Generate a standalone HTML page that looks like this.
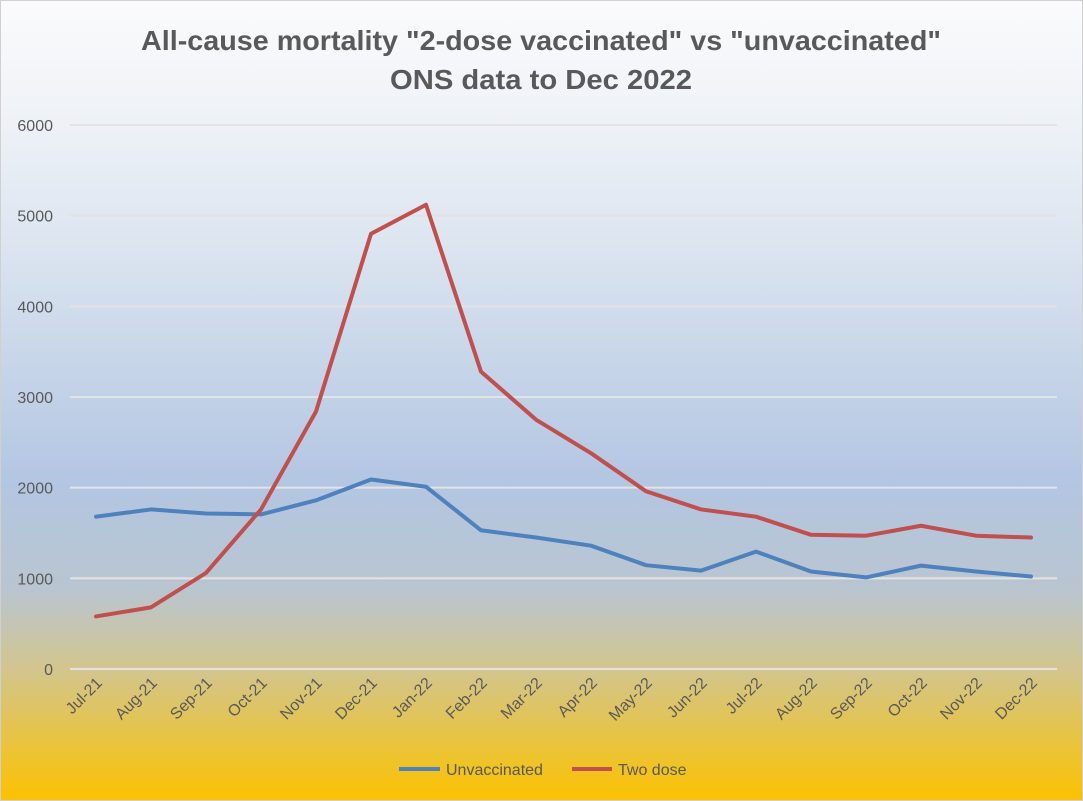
<!DOCTYPE html>
<html><head><style>
html,body{margin:0;padding:0}
body{width:1083px;height:801px;overflow:hidden;font-family:"Liberation Sans",Calibri,sans-serif}
#c{position:absolute;left:0;top:0;width:1081px;height:799px;border:1px solid #d0d0d0;
background:linear-gradient(to bottom,#fbfbfc 0px,#eef2f7 120px,#dbe4f0 250px,#c4d3e8 380px,#b3c6e2 480px,#b9c5cf 590px,#d3c58c 670px,#e8c440 740px,#fcc100 799px)}
</style></head><body>
<div id="c"></div>
<svg id="s" width="1083" height="801" style="position:absolute;left:0;top:0" font-family="Liberation Sans, sans-serif"></svg>
<script>
var s=document.getElementById('s'),h='';
h+='<text x="541" y="50" text-anchor="middle" font-size="28" font-weight="bold" fill="#595959" textLength="800" lengthAdjust="spacingAndGlyphs">All-cause mortality "2-dose vaccinated" vs "unvaccinated"</text>';
h+='<text x="541" y="89" text-anchor="middle" font-size="28" font-weight="bold" fill="#595959" textLength="302" lengthAdjust="spacingAndGlyphs">ONS data to Dec 2022</text>';
for(var i=0;i<=6;i++){var y=669-i*90.67;h+='<line x1="70" x2="1057" y1="'+y+'" y2="'+y+'" stroke="#e3e3e3" stroke-width="2"/>';
h+='<text x="53" y="'+(y+6)+'" text-anchor="end" font-size="16" fill="#595959">'+(i*1000)+'</text>';}
var m=['Jul-21','Aug-21','Sep-21','Oct-21','Nov-21','Dec-21','Jan-22','Feb-22','Mar-22','Apr-22','May-22','Jun-22','Jul-22','Aug-22','Sep-22','Oct-22','Nov-22','Dec-22'];
for(var i=0;i<18;i++){var x=96+i*55;h+='<text transform="translate('+(x+7)+',684) rotate(-45)" text-anchor="end" font-size="16" fill="#595959">'+m[i]+'</text>';}
var u=[1680,1760,1715,1705,1860,2090,2010,1530,1450,1360,1145,1085,1295,1075,1010,1140,1075,1020];
var t=[580,680,1060,1760,2840,4800,5120,3280,2750,2380,1960,1760,1680,1480,1470,1580,1470,1450];
function p(a,c){var d='';for(var i=0;i<a.length;i++)d+=(i?'L':'M')+(96+i*55)+','+(669-a[i]*0.09067);return '<path d="'+d+'" fill="none" stroke="'+c+'" stroke-width="4" stroke-linejoin="round" stroke-linecap="round"/>';}
h+=p(u,'#4f81bd')+p(t,'#c0504d');
h+='<line x1="399" x2="440" y1="769" y2="769" stroke="#4f81bd" stroke-width="4"/><text x="446" y="775" font-size="16" fill="#595959">Unvaccinated</text>';
h+='<line x1="572" x2="612" y1="769" y2="769" stroke="#c0504d" stroke-width="4"/><text x="618" y="775" font-size="16" fill="#595959">Two dose</text>';
s.innerHTML=h;
</script>
</body></html>
